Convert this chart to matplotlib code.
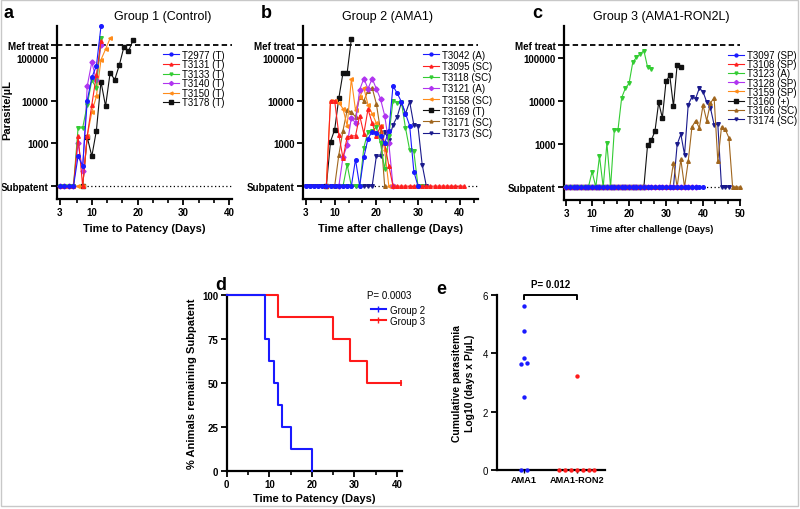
import matplotlib.pyplot as plt
import numpy as np
from matplotlib.lines import Line2D
from matplotlib.patches import Rectangle
from matplotlib.ticker import NullLocator

plt.rcParams['font.family'] = ['Liberation Sans', 'DejaVu Sans']

# --- a: Group 1 (Control), parasites/uL per day, daily from start day
g1_names = ["T2977 (T)", "T3131 (T)", "T3133 (T)", "T3140 (T)", "T3150 (T)", "T3178 (T)"]
g1_start = [3, 3, 3, 3, 3, 8]
g1_vals = [
    [100, 100, 100, 100, 500, 300, 10000, 35000, 65000, 550000],
    [100, 100, 100, 100, 1500, 100, 1500, 8000, 40000, 250000],
    [100, 100, 100, 100, 2300, 2300, 8000, 30000, 20000, 300000],
    [100, 100, 100, 100, 1000, 230, 22000, 80000, 30000, 200000],
    [100, 100, 100, 100, 100, 100, 1500, 5400, 12600, 91000, 160000, 290000],
    [100, 1400, 500, 2000, 28000, 7400, 45000, 31000, 68000, 180000, 144000, 260000],
]

# --- b: Group 2 (AMA1)
g2_names = ["T3042 (A)", "T3095 (SC)", "T3118 (SC)", "T3121 (A)", "T3158 (SC)",
            "T3169 (T)", "T3171 (SC)", "T3173 (SC)"]
g2_start = [3, 8, 12, 11, 8, 8, 10, 3]
g2_vals = [
    [100] * 12 + [420, 100, 470, 1300, 1900, 1800, 1500, 1000, 2000, 22000, 15000,
                  9500, 5000, 2600, 220, 100],
    [100, 10000, 10000, 1600, 450, 1400, 1500, 1500, 4500, 1700, 6300, 3000, 1500,
     2500, 1000, 300] + [100] * 18,
    [100, 320, 100, 100, 100, 800, 1900, 2000, 2400, 1000, 250, 1500, 10000, 9000,
     9500, 2300, 700, 650, 100, 100],
    [100, 480, 900, 4000, 3000, 18000, 33000, 19000, 33000, 19000, 11000, 4500, 1000, 100],
    [100, 10000, 10000, 9000, 6500, 2600, 32000, 6000, 12000, 20000, 8000, 5000, 3000,
     2500, 700, 100, 100],
    [100, 1100, 2100, 11500, 45000, 45000, 280000],
    [100, 540, 2000, 6000, 5400, 4200, 12000, 10000, 17000, 20000, 8500, 2000, 100],
    [100] * 17 + [500, 500, 1900, 1200, 2700, 4200, 9000, 5000, 9500, 2700, 2500, 320, 100],
]

# --- c: Group 3 (AMA1-RON2L)
g3_names = ["T3097 (SP)", "T3108 (SP)", "T3123 (A)", "T3128 (SP)", "T3159 (SP)",
            "T3160 (+)", "T3166 (SC)", "T3174 (SC)"]
g3_start = [3, 3, 3, 3, 3, 3, 31, 32]
g3_vals = [
    [100] * 38,
    [100] * 32,
    [100] * 7 + [230, 100, 520, 100, 1050, 100, 2100, 2150, 12000, 20000, 26000,
                 80000, 105000, 125000, 150000, 62000, 56000],
    [100] * 36,
    [100] * 34,
    [100] * 22 + [950, 1230, 2000, 9300, 4100, 29000, 40000, 7600, 71000, 62000],
    [100, 370, 100, 440, 100, 400, 2500, 3500, 2400, 8000, 3500, 9000, 12000, 400,
     2500, 2200, 1400, 100, 100, 100],
    [100, 980, 1700, 570, 8300, 12500, 11500, 20000, 16500, 9500, 7000, 2800, 2900,
     100, 100, 100],
]

# --- d: day of patency (Kaplan-Meier), 41 = still subpatent at end
g2_patency = [9, 9, 10, 11, 12, 13, 15, 20]
g3_patency = [12, 25, 29, 33, 41, 41, 41, 41]
g3_censored = [False, False, False, False, True, True, True, True]

# --- e: cumulative parasitemia, log10(days x P/uL)
cum_ama1 = [5.6, 4.75, 3.82, 3.62, 3.66, 2.5, 0, 0]
cum_ron2 = [3.22, 0, 0, 0, 0, 0, 0, 0]
e_groups = ["AMA1", "AMA1-RON2"]

colors8 = ['#1a1aff', '#ff2020', '#33cc33', '#b034f0', '#ff8c1a', '#111111', '#a0661e', '#1a1a8c']
colors6 = ['#1a1aff', '#ff2020', '#33cc33', '#b034f0', '#ff8c1a', '#111111']
markers = ['o', '^', 'v', 'D', '<', 's', '^', 'v']

W, H = 800, 510
fig = plt.figure(figsize=(8, 5.1), dpi=100)
fig.patches.append(Rectangle((0.001, 0.006), 0.997, 0.992, transform=fig.transFigure,
                             fill=False, edgecolor='#c8c8c8', lw=1))


def rect(x0, x1, ytop, ybot):
    return [x0 / W, 1 - ybot / H, (x1 - x0) / W, (ybot - ytop) / H]


def style(ax):
    for s in ['top', 'right']:
        ax.spines[s].set_visible(False)
    for s in ['left', 'bottom']:
        ax.spines[s].set_linewidth(1.6)
    ax.tick_params(which='major', length=4.5, width=1.3, labelsize=7, pad=1.5)
    ax.tick_params(which='minor', length=3, width=1.2)
    for lab in ax.get_xticklabels() + ax.get_yticklabels():
        lab.set_fontweight('bold')


def para_panel(r, xmax, names, starts, vals, cols, title, tx, xlabel, xl_size):
    ax = fig.add_axes(r)
    ax.set_yscale('log')
    ax.set_ylim(50, 560000)
    ax.set_xlim(2.4, xmax)
    ax.axhline(200000, color='k', ls=(0, (3, 1.8)), lw=1.3, zorder=1)
    ax.axhline(100, color='k', ls=(0, (1, 2)), lw=0.9, zorder=1)
    for i, (nm, st, v) in enumerate(zip(names, starts, vals)):
        d = st + np.arange(len(v))
        ms = 3.4 if markers[i] == 's' else 2.6
        ax.plot(d, v, color=cols[i], marker=markers[i], ms=ms, lw=0.8,
                label=nm, zorder=20 - i, clip_on=False)
    ax.set_yticks([100, 1000, 10000, 100000, 200000])
    ax.set_yticklabels(['Subpatent', '1000', '10000', '100000', 'Mef treat'])
    ax.yaxis.set_minor_locator(NullLocator())
    majors = [3] + list(range(10, int(xmax) + 1, 10))
    ax.set_xticks(majors)
    ax.set_xticks([k * 10 / 3 for k in range(2, int(xmax * 0.3) + 1) if k % 3], minor=True)
    style(ax)
    ax.set_xlabel(xlabel, fontsize=xl_size, fontweight='bold', labelpad=4)
    ax.text(tx, 1.058, title, transform=ax.transAxes, ha='center', va='center', fontsize=9)
    return ax


ax_a = para_panel(rect(57, 232, 27, 200), 40.6, g1_names, g1_start, g1_vals, colors6,
                  "Group 1 (Control)", 0.606, "Time to Patency (Days)", 8)
ax_a.set_ylabel("Parasite/\u00b5L", fontsize=8, fontweight='bold')
ax_a.yaxis.set_label_coords(-0.255, 0.52)
ax_a.legend(loc='upper left', bbox_to_anchor=(0.58, 0.89), frameon=False, fontsize=7,
            handlelength=1.6, handletextpad=0.3, labelspacing=-0.05, borderpad=0,
            markerscale=0.8)

ax_b = para_panel(rect(303, 478, 27, 200), 44.4, g2_names, g2_start, g2_vals, colors8,
                  "Group 2 (AMA1)", 0.481, "Time after challenge (Days)", 8)
ax_b.legend(loc='upper left', bbox_to_anchor=(0.66, 0.89), frameon=False, fontsize=7,
            handlelength=1.6, handletextpad=0.35, labelspacing=0.12, borderpad=0,
            markerscale=0.8)

ax_c = para_panel(rect(564, 740, 27, 201), 50, g3_names, g3_start, g3_vals, colors8,
                  "Group 3 (AMA1-RON2L)", 0.554, "Time after challenge (Days)", 6.8)
ax_c.legend(loc='upper left', bbox_to_anchor=(0.905, 0.89), frameon=False, fontsize=7,
            handlelength=1.6, handletextpad=0.3, labelspacing=-0.08, borderpad=0,
            markerscale=0.8)


# --- d: Kaplan-Meier
def km(times):
    t = np.sort(np.array(times))
    n = len(t)
    xs, ys = [0], [100.0]
    alive = n
    for u in np.unique(t):
        alive -= np.sum(t == u)
        xs.append(u)
        ys.append(100.0 * alive / n)
    return np.array(xs), np.array(ys)


ax_d = fig.add_axes(rect(226.7, 401.7, 295.7, 471.7))
g3_events = [t for t, c in zip(g3_patency, g3_censored) if not c]
x3, y3 = km(g3_events + [99] * sum(g3_censored))
x3 = np.append(x3[x3 < 99], max(g3_patency))
y3 = np.append(y3[:len(x3) - 1], y3[len(x3) - 2])
x2, y2 = km(g2_patency)
ax_d.step(x3, y3, where='post', color='#ff1a1a', lw=1.5, clip_on=False, zorder=3)
ax_d.plot([max(g3_patency)], [y3[-1]], marker='|', color='#ff1a1a', ms=5, mew=1.3, clip_on=False)
ax_d.step(x2, y2, where='post', color='#1a1aff', lw=1.5, clip_on=False, zorder=4)
ax_d.set_xlim(0, 41.1)
ax_d.set_ylim(0, 100)
ax_d.set_xticks([0, 10, 20, 30, 40])
ax_d.set_xticks([5, 15, 25, 35], minor=True)
ax_d.set_yticks([0, 25, 50, 75, 100])
style(ax_d)
ax_d.set_xlabel("Time to Patency (Days)", fontsize=8, fontweight='bold', labelpad=3)
ax_d.set_ylabel("% Animals remaining Subpatent", fontsize=8, fontweight='bold', labelpad=4)
ax_d.text(0.80, 1.0, "P= 0.0003", transform=ax_d.transAxes, fontsize=7, va='center')
hd = [Line2D([], [], color='#1a1aff', lw=1.5, marker='|', ms=4),
      Line2D([], [], color='#ff1a1a', lw=1.5, marker='|', ms=4)]
ax_d.legend(hd, ["Group 2", "Group 3"], loc='upper left', bbox_to_anchor=(0.795, 0.97),
            frameon=False, fontsize=7, handlelength=1.6, handletextpad=0.4,
            labelspacing=0.1, borderpad=0)

# --- e: cumulative parasitemia dot plot
ax_e = fig.add_axes(rect(496.7, 605, 295.7, 471))


def swarm(vals, step=0.11, tol=0.1):
    vals = np.asarray(vals, float)
    off = np.zeros(len(vals))
    used = np.zeros(len(vals), bool)
    for i in range(len(vals)):
        if used[i]:
            continue
        grp = np.where((np.abs(vals - vals[i]) < tol) & ~used)[0]
        used[grp] = True
        off[grp] = (np.arange(len(grp)) - (len(grp) - 1) / 2) * step
    return off


for k, (vals, col) in enumerate([(cum_ama1, '#1a1aff'), (cum_ron2, '#ff1a1a')]):
    ax_e.scatter(k + swarm(vals), vals, s=10, color=col, zorder=5, clip_on=False, lw=0)
ax_e.set_xlim(-0.515, 1.53)
ax_e.set_ylim(0, 6)
ax_e.set_yticks([0, 2, 4, 6])
ax_e.set_xticks([0, 1])
ax_e.set_xticklabels(e_groups)
style(ax_e)
ax_e.tick_params(axis='x', length=2, width=1)
for lab in ax_e.get_yticklabels():
    lab.set_fontweight('normal')
for lab in ax_e.get_xticklabels():
    lab.set_fontsize(6.6)
ax_e.set_ylabel("Cumulative parasitemia\nLog10 (days x P/\u00b5L)", fontsize=7.5,
                fontweight='bold', labelpad=6, linespacing=1.3)
ax_e.plot([0, 0, 1, 1], [5.85, 6.0, 6.0, 5.85], color='k', lw=1.4, clip_on=False)
ax_e.text(0.5, 6.2, "P= 0.012", ha='center', va='bottom', fontsize=7, fontweight='bold')

# panel letters
for ch, x, y in [('a', 3, 13), ('b', 261, 13), ('c', 532, 13), ('d', 215, 285), ('e', 436, 290)]:
    fig.text(x / W, 1 - y / H, ch, fontsize=13, fontweight='bold', va='center', ha='left')

fig.savefig('out.png', dpi=100)
